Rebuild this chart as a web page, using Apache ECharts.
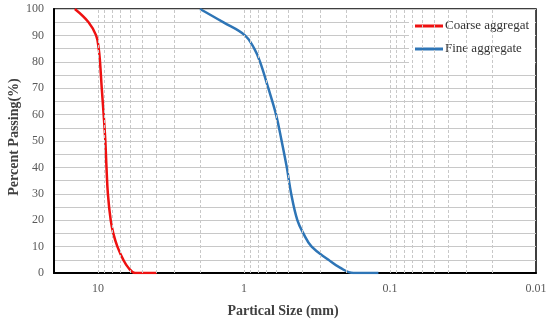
<!DOCTYPE html>
<html><head><meta charset="utf-8">
<script src="https://cdn.jsdelivr.net/npm/echarts@6/dist/echarts.min.js"></script>
<style>html,body{margin:0;padding:0;background:#fff}#c{width:550px;height:323px}</style>
</head><body><div id="c"></div>
<script>
// Coarse aggregate: [size mm, percent passing]
var coarseSize = [14.4, 11.6, 10.3, 9.88, 9.68, 9.42, 9.14, 8.90, 8.74, 8.55, 8.18, 7.85, 7.36, 6.70, 6.19, 5.57, 3.96];
var coarsePass = [100, 95, 90, 85, 80, 70, 60, 50, 40, 30, 20, 15, 10, 5, 2, 0, 0];
// Fine aggregate
var fineSize = [2.0, 1.39, 0.984, 0.850, 0.776, 0.681, 0.603, 0.552, 0.509, 0.475, 0.431, 0.392, 0.344, 0.264, 0.220, 0.178, 0.120];
var finePass = [100, 95, 90, 85, 80, 70, 60, 50, 40, 30, 20, 15, 10, 5, 2, 0, 0];
var seriesNames = ['Coarse aggregat', 'Fine aggregate'];
// vertical (log) grid line positions
var vGrid = [0.02,0.03,0.04,0.05,0.06,0.07,0.08,0.09,0.1,0.2,0.3,0.4,0.5,0.6,0.7,0.8,0.9,1,2,3,4,5,6,7,8,9,10];
var xMin = 0.01, xMax = 20;

function zip(a, b){ return a.map(function(v,i){ return [v, b[i]]; }); }
var font = 'Liberation Serif';
var chart = echarts.init(document.getElementById('c'));
chart.setOption({
  animation: false,
  grid: { left: 54, right: 14, top: 9, bottom: 50, containLabel: false, outerBoundsMode: 'none',
          show: true, borderColor: '#000', borderWidth: 1.5, backgroundColor: 'transparent' },
  legend: {
    orient: 'vertical', left: 409, top: 10,
    data: [{name: seriesNames[0], icon: 'rect'}, {name: seriesNames[1], icon: 'rect'}],
    itemWidth: 28, itemHeight: 3, itemGap: 7,
    backgroundColor: '#fff', padding: [8, 6, 8, 6],
    textStyle: { fontFamily: font, fontSize: 13, color: '#333', lineHeight: 16, padding: [0,0,0,-3] }
  },
  xAxis: {
    type: 'log', logBase: 10, min: xMin, max: xMax, inverse: true,
    name: 'Partical Size (mm)', nameLocation: 'middle', nameGap: 31, nameMoveOverlap: false,
    nameTextStyle: { fontFamily: font, fontSize: 14, fontWeight: 'bold', color: '#404040', padding: [0, 24, 0, 0] },
    axisLine: { show: true, onZero: false, lineStyle: { color: '#000', width: 2 } },
    axisTick: { show: false },
    splitLine: { show: false },
    axisLabel: {
      margin: 10, fontFamily: font, fontSize: 12, color: '#595959',
      formatter: function(v){
        var l = Math.log10(v);
        if (Math.abs(l - Math.round(l)) > 1e-6) return '';
        return String(+Math.pow(10, Math.round(l)).toPrecision(6));
      }
    }
  },
  yAxis: {
    type: 'value', min: 0, max: 100, interval: 10,
    name: 'Percent Passing(%)', nameLocation: 'middle', nameGap: 33, nameMoveOverlap: false,
    nameTextStyle: { fontFamily: font, fontSize: 14, fontWeight: 'bold', color: '#404040', padding: [0, 0, 0, 8] },
    axisLine: { show: true, lineStyle: { color: '#000', width: 2 } },
    axisTick: { show: false },
    axisLabel: { margin: 10, fontFamily: font, fontSize: 12, color: '#595959' },
    splitLine: { show: true, lineStyle: { color: '#c8c8c8', width: 1 } },
    minorTick: { show: false, splitNumber: 2 },
    minorSplitLine: { show: true, lineStyle: { color: '#c8c8c8', width: 1 } }
  },
  series: [
    {
      type: 'line', name: '_grid', data: [], z: 1, silent: true,
      markLine: {
        silent: true, symbol: 'none', animation: false,
        label: { show: false },
        lineStyle: { color: '#c8c8c8', type: [3, 2], width: 1 },
        data: vGrid.map(function(v){ return { xAxis: v }; })
      }
    },
    {
      type: 'line', name: seriesNames[0], data: zip(coarseSize, coarsePass),
      smooth: 0.4, showSymbol: false, symbol: 'none', z: 3,
      lineStyle: { color: '#ee1111', width: 2.5 }, itemStyle: { color: '#ee1111' }
    },
    {
      type: 'line', name: seriesNames[1], data: zip(fineSize, finePass),
      smooth: 0.4, showSymbol: false, symbol: 'none', z: 3,
      lineStyle: { color: '#2e75b6', width: 2.5 }, itemStyle: { color: '#2e75b6' }
    }
  ]
});
</script></body></html>
